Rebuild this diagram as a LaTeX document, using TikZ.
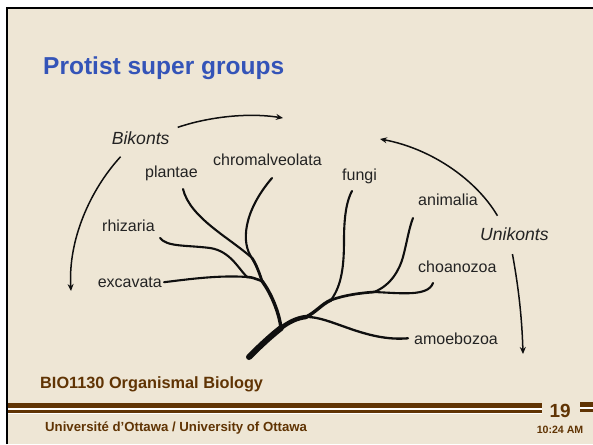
\documentclass[tikz,border=0pt]{standalone}
\usepackage{fontspec}
\setmainfont{Liberation Sans}
\usetikzlibrary{arrows.meta}
\definecolor{slidebg}{RGB}{238,230,213}
\definecolor{titleblue}{RGB}{52,84,184}
\definecolor{footbrown}{RGB}{96,52,4}
\definecolor{labelgray}{RGB}{35,35,35}
\definecolor{inkblack}{RGB}{15,15,15}

\begin{document}
\begin{tikzpicture}[x=1pt, y=-1pt,
    lbl/.style={font=\fontsize{16}{18}\selectfont, text=labelgray, inner sep=2pt, anchor=base west},
    grp/.style={font=\fontsize{17.6}{20}\selectfont\itshape, text=labelgray, inner sep=3pt, anchor=base west},
    arr/.style={draw=inkblack, line width=1.5pt, -{Stealth[length=7pt,width=6pt]}},
    twig/.style={draw=inkblack, line width=2.1pt, line cap=round},
    foot/.style={text=footbrown, font=\bfseries, inner sep=0pt}
]
    % slide frame
    \useasboundingbox (0,0) rectangle (593,444);
    \fill[white] (0,0) rectangle (593,444);
    \fill[slidebg] (7,8) rectangle (593,444);
    \draw[black, line width=2pt] (7,444) -- (7,8) -- (593,8);

    \node[anchor=base west, inner sep=0pt, text=titleblue,
          font=\fontsize{24.5}{28}\selectfont\bfseries] (title) at (43,74) {Protist super groups};

    % group labels
    \node[grp] (bik) at (108.6,144.3) {Bikonts};
    \node[grp] (uni) at (477,240.7) {Unikonts};

    % taxon labels
    \node[lbl] (plant) at (143,177.7) {plantae};
    \node[lbl] (chrom) at (211,165.7) {chromalveolata};
    \node[lbl] (fungi) at (340,180) {fungi};
    \node[lbl] (anim) at (416,205.7) {animalia};
    \node[lbl] (rhiz) at (100,231.7) {rhizaria};
    \node[lbl] (choan) at (416,272.3) {choanozoa};
    \node[lbl] (excav) at (95.6,287.3) {excavata};
    \node[lbl] (amoeb) at (412,344) {amoebozoa};

    % tree joints and tips
    \coordinate (root) at (249,357);
    \coordinate (jL) at (281,328);
    \coordinate (jR) at (306,317);
    \coordinate (jF) at (331,300);
    \coordinate (jA) at (374,292);
    \coordinate (jX) at (262,281);
    \coordinate (jE) at (247,277);
    \coordinate (jC) at (252,258);
    \coordinate (tPla) at (183,189);
    \coordinate (tChr) at (272,178);
    \coordinate (tRhi) at (160,238);
    \coordinate (tFun) at (352,191);
    \coordinate (tAni) at (413,218);
    \coordinate (tCho) at (433,283);

    % trunk and limbs
    \draw[twig, line width=6pt] (root) .. controls (262,344) and (272,335) .. (jL);
    \draw[twig, line width=4.4pt] (jL) .. controls (289,322) and (297,318) .. (jR);
    \draw[twig, line width=3.4pt] (jR) .. controls (316,312) and (322,304) .. (jF);
    \draw[twig, line width=2.7pt] (jF) .. controls (345,295) and (360,293) .. (jA);
    \draw[twig, line width=3.4pt] (jL) .. controls (279,312) and (271,293) .. (jX);
    \draw[twig, line width=2.8pt] (jX) .. controls (259,272) and (256,264) .. (jC);
    \draw[twig, line width=2.6pt] (jX) .. controls (256,279) and (252,277) .. (jE);

    % twigs to the groups
    \draw[twig] (jC) .. controls (230,238) and (190,218) .. (tPla);
    \draw[twig] (jC) .. controls (241,243) and (243,212) .. (tChr);
    \draw[twig] (jE) .. controls (220,275) and (190,279) .. (excav.east);
    \draw[twig] (jE) .. controls (238,268) and (230,251) .. (210,248)
                     .. controls (186,245) and (167,247) .. (tRhi);
    \draw[twig, line width=2.3pt] (jR) .. controls (330,316) and (365,342) .. ([xshift=-4pt]amoeb.west);
    \draw[twig] (jF) .. controls (342,285) and (344,265) .. (344,240)
                     .. controls (344,215) and (347,200) .. (tFun);
    \draw[twig] (jA) .. controls (392,285) and (400,268) .. (403,257)
                     .. controls (407,242) and (409,228) .. (tAni);
    \draw[twig] (jA) .. controls (400,293) and (428,297) .. (tCho);

    % group arrows
    \coordinate (bikEnd) at (283,118);
    \coordinate (bikDown) at (71,291);
    \coordinate (uniEnd) at (380,139);
    \coordinate (uniDown) at (523,354);
    \draw[arr] ([xshift=5pt,yshift=1pt]bik.north east) .. controls (205,118) and (245,112) .. (bikEnd);
    \draw[arr] ([xshift=12pt,yshift=-9pt]bik.south west) .. controls (90,190) and (68,240) .. (bikDown);
    \draw[arr] ([xshift=-17pt,yshift=9pt]uni.north) .. controls (477,181) and (433,149) .. (uniEnd);
    \draw[arr] ([xshift=-2pt,yshift=-10pt]uni.south) .. controls (519,290) and (522,320) .. (uniDown);

    % footer
    \node[foot, anchor=base west, font=\fontsize{16.3}{19}\selectfont\bfseries] (course) at (40,388) {BIO1130 Organismal Biology};
    \fill[white] (8,402.5) rectangle (542.3,414);
    \fill[footbrown] (8,403.3) rectangle (542.3,407.7);
    \fill[footbrown] (8,410) rectangle (542.3,413);
    \fill[white] (580,401.5) rectangle (593,412.3);
    \fill[footbrown] (580,402.3) rectangle (593,406.7);
    \fill[footbrown] (580,409) rectangle (593,411.5);
    \node[foot, anchor=base east, font=\fontsize{19}{22}\selectfont\bfseries] (page) at (571,417) {19};
    \node[foot, anchor=base east, font=\fontsize{10.6}{12}\selectfont\bfseries] (clock) at (583.5,433) {10:24 AM};
    \node[foot, anchor=base west, font=\fontsize{13.2}{15}\selectfont\bfseries] (univ) at (45,431) {Université d’Ottawa / University of Ottawa};
\end{tikzpicture}
\end{document}
